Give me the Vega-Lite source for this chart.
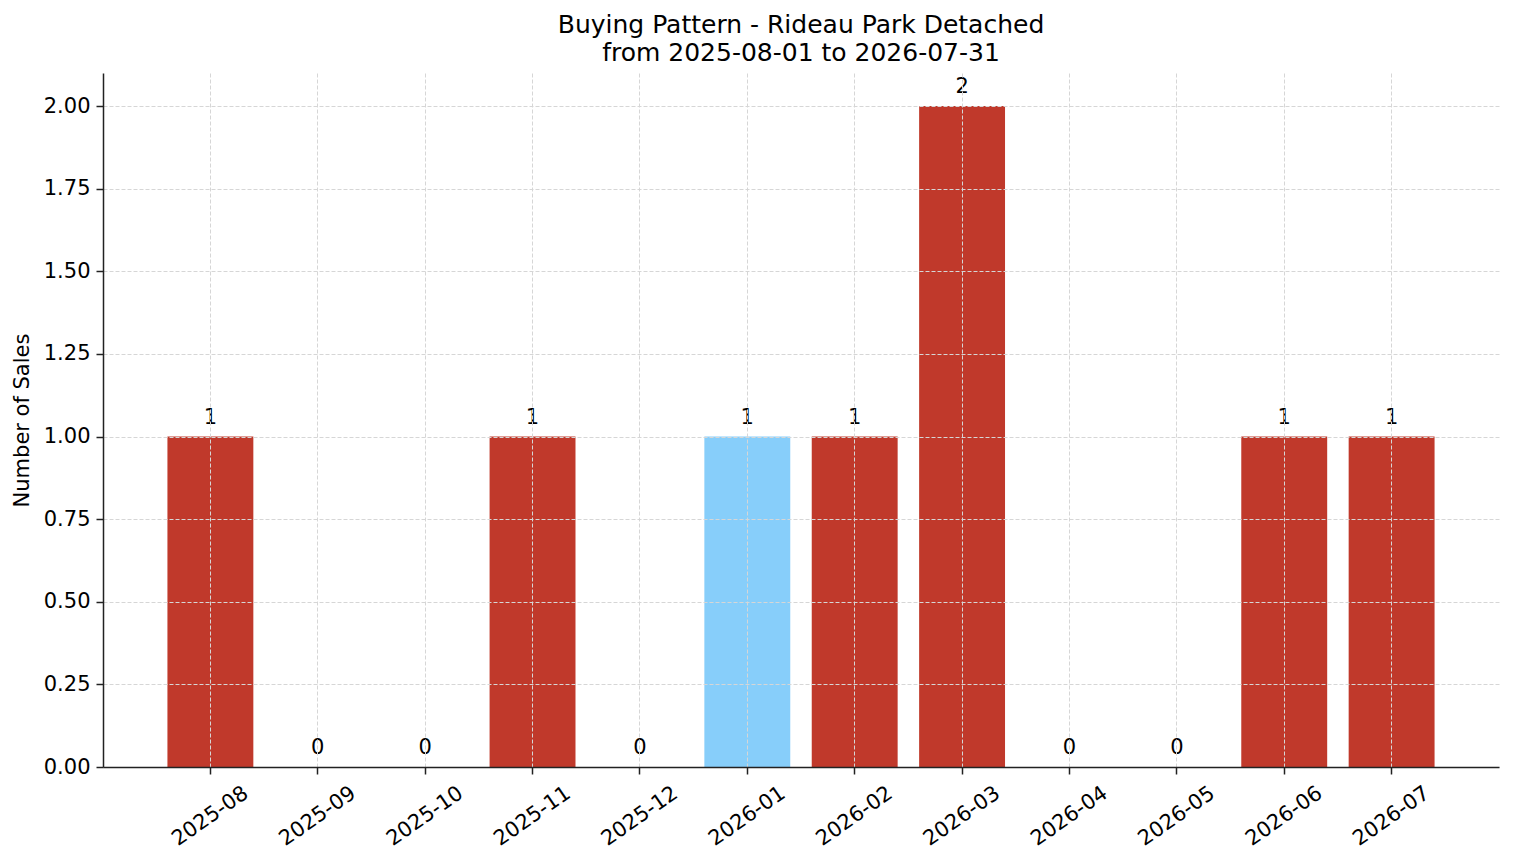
{
  "$schema": "https://vega.github.io/schema/vega-lite/v6.json",
  "width": 1396,
  "height": 694,
  "autosize": {"type": "none"},
  "padding": {"left": 103, "top": 73, "right": 15, "bottom": 96},
  "background": "white",
  "title": {
    "text": ["Buying Pattern - Rideau Park Detached", "from 2025-08-01 to 2026-07-31"],
    "anchor": "middle",
    "frame": "group",
    "font": "DejaVu Sans",
    "fontSize": 25,
    "fontWeight": "normal",
    "color": "black",
    "lineHeight": 28,
    "offset": 7
  },
  "data": {
    "values": [
      {"month": "2025-08", "sales": 1, "current": "no"},
      {"month": "2025-09", "sales": 0, "current": "no"},
      {"month": "2025-10", "sales": 0, "current": "no"},
      {"month": "2025-11", "sales": 1, "current": "no"},
      {"month": "2025-12", "sales": 0, "current": "no"},
      {"month": "2026-01", "sales": 1, "current": "yes"},
      {"month": "2026-02", "sales": 1, "current": "no"},
      {"month": "2026-03", "sales": 2, "current": "no"},
      {"month": "2026-04", "sales": 0, "current": "no"},
      {"month": "2026-05", "sales": 0, "current": "no"},
      {"month": "2026-06", "sales": 1, "current": "no"},
      {"month": "2026-07", "sales": 1, "current": "no"}
    ]
  },
  "encoding": {
    "x": {
      "field": "month",
      "type": "nominal",
      "sort": null,
      "title": null,
      "scale": {"paddingInner": 0.2, "paddingOuter": 0.6},
      "axis": {
        "bandPosition": 0.5,
        "labelAngle": -35,
        "labelAlign": "center",
        "labelBaseline": "middle",
        "labelPadding": 42,
        "grid": true,
        "zindex": 1
      }
    },
    "y": {
      "field": "sales",
      "type": "quantitative",
      "title": "Number of Sales",
      "scale": {"domain": [0, 2.1], "nice": false, "zero": true},
      "axis": {
        "values": [0, 0.25, 0.5, 0.75, 1, 1.25, 1.5, 1.75, 2],
        "format": ".2f",
        "grid": true,
        "zindex": 1,
        "labelPadding": 6,
        "titlePadding": 11
      }
    }
  },
  "layer": [
    {
      "mark": {"type": "bar"},
      "encoding": {
        "color": {
          "field": "current",
          "type": "nominal",
          "scale": {"domain": ["no", "yes"], "range": ["#c0392b", "#87cefa"]},
          "legend": null
        }
      }
    },
    {
      "mark": {
        "type": "text",
        "baseline": "alphabetic",
        "dy": -13,
        "font": "DejaVu Sans",
        "fontSize": 21,
        "color": "black"
      },
      "encoding": {
        "text": {"field": "sales", "type": "quantitative", "format": "d"}
      }
    }
  ],
  "config": {
    "view": {"stroke": null},
    "axis": {
      "labelFont": "DejaVu Sans",
      "labelFontSize": 21,
      "labelColor": "black",
      "titleFont": "DejaVu Sans",
      "titleFontSize": 21,
      "titleFontWeight": "normal",
      "titleColor": "black",
      "domainColor": "#222222",
      "domainWidth": 1.5,
      "tickColor": "#222222",
      "tickSize": 7,
      "tickWidth": 1.5,
      "gridColor": "#d6d6d6",
      "gridDash": [4, 2],
      "gridWidth": 1
    }
  }
}
